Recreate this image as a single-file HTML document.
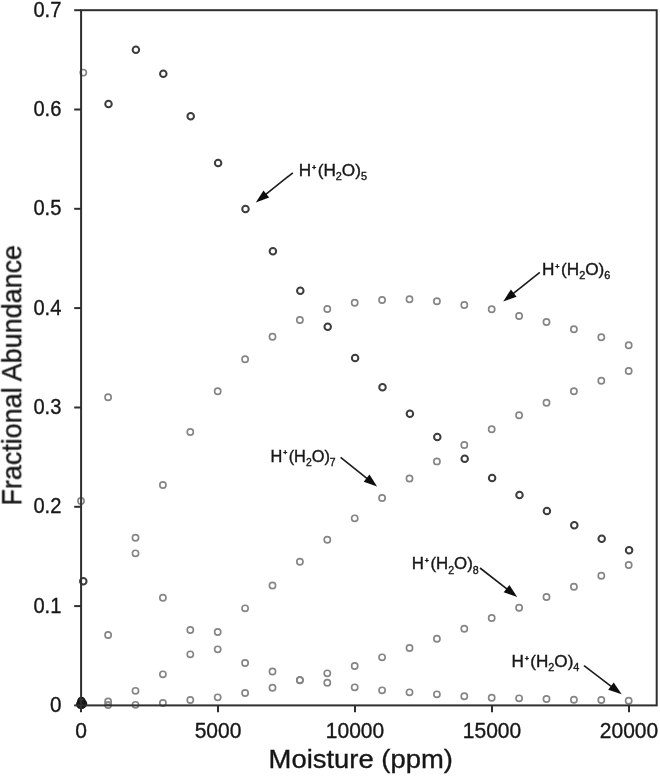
<!DOCTYPE html>
<html lang="en">
<head>
<meta charset="utf-8">
<title>Fractional Abundance vs Moisture</title>
<style>
html,body{margin:0;padding:0;background:#fff;}
body{width:660px;height:777px;overflow:hidden;}
svg{display:block;font-family:"Liberation Sans",Arial,Helvetica,sans-serif;fill:#161616;}
svg text{stroke:#161616;stroke-width:0.35px;}
</style>
</head>
<body>
<svg width="660" height="777" viewBox="0 0 660 777">
<defs><filter id="soft" x="-2%" y="-2%" width="104%" height="104%"><feGaussianBlur stdDeviation="0.5"/></filter><filter id="soft2" x="-2%" y="-2%" width="104%" height="104%"><feGaussianBlur stdDeviation="0.7"/></filter></defs>
<rect x="0" y="0" width="660" height="777" fill="#ffffff"/>
<g filter="url(#soft2)">
<circle cx="83.3" cy="72.6" r="3.1" fill="none" stroke="#858585" stroke-width="1.65"/>
<circle cx="108.1" cy="397.3" r="3.1" fill="none" stroke="#858585" stroke-width="1.65"/>
<circle cx="135.5" cy="553.3" r="3.1" fill="none" stroke="#858585" stroke-width="1.65"/>
<circle cx="162.9" cy="597.7" r="3.1" fill="none" stroke="#858585" stroke-width="1.65"/>
<circle cx="190.3" cy="630.0" r="3.1" fill="none" stroke="#858585" stroke-width="1.65"/>
<circle cx="217.7" cy="649.3" r="3.1" fill="none" stroke="#858585" stroke-width="1.65"/>
<circle cx="245.1" cy="663.0" r="3.1" fill="none" stroke="#858585" stroke-width="1.65"/>
<circle cx="272.5" cy="671.5" r="3.1" fill="none" stroke="#858585" stroke-width="1.65"/>
<circle cx="299.9" cy="680.3" r="3.1" fill="none" stroke="#858585" stroke-width="1.65"/>
<circle cx="327.3" cy="682.7" r="3.1" fill="none" stroke="#858585" stroke-width="1.65"/>
<circle cx="354.7" cy="687.3" r="3.1" fill="none" stroke="#858585" stroke-width="1.65"/>
<circle cx="382.1" cy="690.3" r="3.1" fill="none" stroke="#858585" stroke-width="1.65"/>
<circle cx="409.5" cy="692.3" r="3.1" fill="none" stroke="#858585" stroke-width="1.65"/>
<circle cx="436.9" cy="694.3" r="3.1" fill="none" stroke="#858585" stroke-width="1.65"/>
<circle cx="464.3" cy="696.2" r="3.1" fill="none" stroke="#858585" stroke-width="1.65"/>
<circle cx="491.7" cy="697.7" r="3.1" fill="none" stroke="#858585" stroke-width="1.65"/>
<circle cx="519.1" cy="698.3" r="3.1" fill="none" stroke="#858585" stroke-width="1.65"/>
<circle cx="546.5" cy="699.0" r="3.1" fill="none" stroke="#858585" stroke-width="1.65"/>
<circle cx="573.9" cy="699.7" r="3.1" fill="none" stroke="#858585" stroke-width="1.65"/>
<circle cx="601.3" cy="700.0" r="3.1" fill="none" stroke="#858585" stroke-width="1.65"/>
<circle cx="628.7" cy="700.7" r="3.1" fill="none" stroke="#858585" stroke-width="1.65"/>
<circle cx="80.7" cy="704.0" r="3.1" fill="none" stroke="#858585" stroke-width="1.65"/>
<circle cx="108.1" cy="635.0" r="3.1" fill="none" stroke="#858585" stroke-width="1.65"/>
<circle cx="135.5" cy="537.7" r="3.1" fill="none" stroke="#858585" stroke-width="1.65"/>
<circle cx="162.9" cy="485.0" r="3.1" fill="none" stroke="#858585" stroke-width="1.65"/>
<circle cx="190.3" cy="432.0" r="3.1" fill="none" stroke="#858585" stroke-width="1.65"/>
<circle cx="217.7" cy="391.3" r="3.1" fill="none" stroke="#858585" stroke-width="1.65"/>
<circle cx="245.1" cy="359.3" r="3.1" fill="none" stroke="#858585" stroke-width="1.65"/>
<circle cx="272.5" cy="336.7" r="3.1" fill="none" stroke="#858585" stroke-width="1.65"/>
<circle cx="299.9" cy="320.0" r="3.1" fill="none" stroke="#858585" stroke-width="1.65"/>
<circle cx="327.3" cy="309.0" r="3.1" fill="none" stroke="#858585" stroke-width="1.65"/>
<circle cx="354.7" cy="302.7" r="3.1" fill="none" stroke="#858585" stroke-width="1.65"/>
<circle cx="382.1" cy="300.0" r="3.1" fill="none" stroke="#858585" stroke-width="1.65"/>
<circle cx="409.5" cy="299.3" r="3.1" fill="none" stroke="#858585" stroke-width="1.65"/>
<circle cx="436.9" cy="301.3" r="3.1" fill="none" stroke="#858585" stroke-width="1.65"/>
<circle cx="464.3" cy="305.0" r="3.1" fill="none" stroke="#858585" stroke-width="1.65"/>
<circle cx="491.7" cy="309.3" r="3.1" fill="none" stroke="#858585" stroke-width="1.65"/>
<circle cx="519.1" cy="316.0" r="3.1" fill="none" stroke="#858585" stroke-width="1.65"/>
<circle cx="546.5" cy="322.0" r="3.1" fill="none" stroke="#858585" stroke-width="1.65"/>
<circle cx="573.9" cy="329.3" r="3.1" fill="none" stroke="#858585" stroke-width="1.65"/>
<circle cx="601.3" cy="337.3" r="3.1" fill="none" stroke="#858585" stroke-width="1.65"/>
<circle cx="628.7" cy="345.3" r="3.1" fill="none" stroke="#858585" stroke-width="1.65"/>
<circle cx="80.7" cy="705.0" r="3.1" fill="none" stroke="#858585" stroke-width="1.65"/>
<circle cx="108.1" cy="701.5" r="3.1" fill="none" stroke="#858585" stroke-width="1.65"/>
<circle cx="135.5" cy="690.8" r="3.1" fill="none" stroke="#858585" stroke-width="1.65"/>
<circle cx="162.9" cy="674.3" r="3.1" fill="none" stroke="#858585" stroke-width="1.65"/>
<circle cx="190.3" cy="654.3" r="3.1" fill="none" stroke="#858585" stroke-width="1.65"/>
<circle cx="217.7" cy="632.0" r="3.1" fill="none" stroke="#858585" stroke-width="1.65"/>
<circle cx="245.1" cy="608.3" r="3.1" fill="none" stroke="#858585" stroke-width="1.65"/>
<circle cx="272.5" cy="585.5" r="3.1" fill="none" stroke="#858585" stroke-width="1.65"/>
<circle cx="299.9" cy="561.7" r="3.1" fill="none" stroke="#858585" stroke-width="1.65"/>
<circle cx="327.3" cy="539.7" r="3.1" fill="none" stroke="#858585" stroke-width="1.65"/>
<circle cx="354.7" cy="518.3" r="3.1" fill="none" stroke="#858585" stroke-width="1.65"/>
<circle cx="382.1" cy="498.0" r="3.1" fill="none" stroke="#858585" stroke-width="1.65"/>
<circle cx="409.5" cy="478.5" r="3.1" fill="none" stroke="#858585" stroke-width="1.65"/>
<circle cx="436.9" cy="461.4" r="3.1" fill="none" stroke="#858585" stroke-width="1.65"/>
<circle cx="464.3" cy="445.0" r="3.1" fill="none" stroke="#858585" stroke-width="1.65"/>
<circle cx="491.7" cy="429.3" r="3.1" fill="none" stroke="#858585" stroke-width="1.65"/>
<circle cx="519.1" cy="415.3" r="3.1" fill="none" stroke="#858585" stroke-width="1.65"/>
<circle cx="546.5" cy="402.7" r="3.1" fill="none" stroke="#858585" stroke-width="1.65"/>
<circle cx="573.9" cy="391.3" r="3.1" fill="none" stroke="#858585" stroke-width="1.65"/>
<circle cx="601.3" cy="380.7" r="3.1" fill="none" stroke="#858585" stroke-width="1.65"/>
<circle cx="628.7" cy="371.0" r="3.1" fill="none" stroke="#858585" stroke-width="1.65"/>
<circle cx="80.7" cy="705.3" r="3.1" fill="none" stroke="#858585" stroke-width="1.65"/>
<circle cx="108.1" cy="705.0" r="3.1" fill="none" stroke="#858585" stroke-width="1.65"/>
<circle cx="135.5" cy="704.8" r="3.1" fill="none" stroke="#858585" stroke-width="1.65"/>
<circle cx="162.9" cy="703.0" r="3.1" fill="none" stroke="#858585" stroke-width="1.65"/>
<circle cx="190.3" cy="700.0" r="3.1" fill="none" stroke="#858585" stroke-width="1.65"/>
<circle cx="217.7" cy="697.3" r="3.1" fill="none" stroke="#858585" stroke-width="1.65"/>
<circle cx="245.1" cy="693.0" r="3.1" fill="none" stroke="#858585" stroke-width="1.65"/>
<circle cx="272.5" cy="687.7" r="3.1" fill="none" stroke="#858585" stroke-width="1.65"/>
<circle cx="299.9" cy="680.0" r="3.1" fill="none" stroke="#858585" stroke-width="1.65"/>
<circle cx="327.3" cy="673.3" r="3.1" fill="none" stroke="#858585" stroke-width="1.65"/>
<circle cx="354.7" cy="666.0" r="3.1" fill="none" stroke="#858585" stroke-width="1.65"/>
<circle cx="382.1" cy="657.3" r="3.1" fill="none" stroke="#858585" stroke-width="1.65"/>
<circle cx="409.5" cy="648.0" r="3.1" fill="none" stroke="#858585" stroke-width="1.65"/>
<circle cx="436.9" cy="638.7" r="3.1" fill="none" stroke="#858585" stroke-width="1.65"/>
<circle cx="464.3" cy="628.7" r="3.1" fill="none" stroke="#858585" stroke-width="1.65"/>
<circle cx="491.7" cy="618.0" r="3.1" fill="none" stroke="#858585" stroke-width="1.65"/>
<circle cx="519.1" cy="607.7" r="3.1" fill="none" stroke="#858585" stroke-width="1.65"/>
<circle cx="546.5" cy="597.0" r="3.1" fill="none" stroke="#858585" stroke-width="1.65"/>
<circle cx="573.9" cy="586.7" r="3.1" fill="none" stroke="#858585" stroke-width="1.65"/>
<circle cx="601.3" cy="575.7" r="3.1" fill="none" stroke="#858585" stroke-width="1.65"/>
<circle cx="628.7" cy="565.0" r="3.1" fill="none" stroke="#858585" stroke-width="1.65"/>
<circle cx="81.0" cy="501.0" r="3.1" fill="none" stroke="#858585" stroke-width="1.65"/>
<circle cx="81.0" cy="702.5" r="3.1" fill="none" stroke="#858585" stroke-width="1.65"/>
<circle cx="83.3" cy="581.3" r="3.25" fill="none" stroke="#3c3c3c" stroke-width="2.0"/>
<circle cx="108.5" cy="104.0" r="3.25" fill="none" stroke="#3c3c3c" stroke-width="2.0"/>
<circle cx="135.9" cy="49.7" r="3.25" fill="none" stroke="#3c3c3c" stroke-width="2.0"/>
<circle cx="163.3" cy="73.7" r="3.25" fill="none" stroke="#3c3c3c" stroke-width="2.0"/>
<circle cx="190.7" cy="116.3" r="3.25" fill="none" stroke="#3c3c3c" stroke-width="2.0"/>
<circle cx="218.1" cy="163.0" r="3.25" fill="none" stroke="#3c3c3c" stroke-width="2.0"/>
<circle cx="245.5" cy="209.0" r="3.25" fill="none" stroke="#3c3c3c" stroke-width="2.0"/>
<circle cx="272.9" cy="251.3" r="3.25" fill="none" stroke="#3c3c3c" stroke-width="2.0"/>
<circle cx="300.3" cy="290.7" r="3.25" fill="none" stroke="#3c3c3c" stroke-width="2.0"/>
<circle cx="327.7" cy="326.7" r="3.25" fill="none" stroke="#3c3c3c" stroke-width="2.0"/>
<circle cx="355.1" cy="358.0" r="3.25" fill="none" stroke="#3c3c3c" stroke-width="2.0"/>
<circle cx="382.5" cy="387.3" r="3.25" fill="none" stroke="#3c3c3c" stroke-width="2.0"/>
<circle cx="409.9" cy="413.7" r="3.25" fill="none" stroke="#3c3c3c" stroke-width="2.0"/>
<circle cx="437.3" cy="437.0" r="3.25" fill="none" stroke="#3c3c3c" stroke-width="2.0"/>
<circle cx="464.7" cy="458.7" r="3.25" fill="none" stroke="#3c3c3c" stroke-width="2.0"/>
<circle cx="492.1" cy="478.0" r="3.25" fill="none" stroke="#3c3c3c" stroke-width="2.0"/>
<circle cx="519.5" cy="495.0" r="3.25" fill="none" stroke="#3c3c3c" stroke-width="2.0"/>
<circle cx="546.9" cy="511.0" r="3.25" fill="none" stroke="#3c3c3c" stroke-width="2.0"/>
<circle cx="574.3" cy="525.3" r="3.25" fill="none" stroke="#3c3c3c" stroke-width="2.0"/>
<circle cx="601.7" cy="538.7" r="3.25" fill="none" stroke="#3c3c3c" stroke-width="2.0"/>
<circle cx="629.1" cy="550.3" r="3.25" fill="none" stroke="#3c3c3c" stroke-width="2.0"/>
<circle cx="81.4" cy="701.0" r="3.25" fill="none" stroke="#151515" stroke-width="2.0"/>
<circle cx="83.0" cy="703.8" r="3.25" fill="none" stroke="#151515" stroke-width="2.0"/>
<circle cx="80.3" cy="704.3" r="3.25" fill="none" stroke="#151515" stroke-width="2.0"/>
<circle cx="81.8" cy="704.8" r="3.25" fill="none" stroke="#151515" stroke-width="2.0"/>
</g>
<g filter="url(#soft)">
<rect x="81.1" y="10.2" width="575.6" height="695.1999999999999" fill="none" stroke="#2e2e2e" stroke-width="2"/>
<line x1="74.2" y1="705.4" x2="81.1" y2="705.4" stroke="#2e2e2e" stroke-width="2"/>
<text x="49.9" y="712.0" font-size="22" textLength="11.5" lengthAdjust="spacingAndGlyphs">0</text>
<line x1="74.2" y1="606.1" x2="81.1" y2="606.1" stroke="#2e2e2e" stroke-width="2"/>
<text x="33.4" y="612.7" font-size="22" textLength="28.0" lengthAdjust="spacingAndGlyphs">0.1</text>
<line x1="74.2" y1="506.8" x2="81.1" y2="506.8" stroke="#2e2e2e" stroke-width="2"/>
<text x="33.4" y="513.4" font-size="22" textLength="28.0" lengthAdjust="spacingAndGlyphs">0.2</text>
<line x1="74.2" y1="407.5" x2="81.1" y2="407.5" stroke="#2e2e2e" stroke-width="2"/>
<text x="33.4" y="414.1" font-size="22" textLength="28.0" lengthAdjust="spacingAndGlyphs">0.3</text>
<line x1="74.2" y1="308.1" x2="81.1" y2="308.1" stroke="#2e2e2e" stroke-width="2"/>
<text x="33.4" y="314.7" font-size="22" textLength="28.0" lengthAdjust="spacingAndGlyphs">0.4</text>
<line x1="74.2" y1="208.8" x2="81.1" y2="208.8" stroke="#2e2e2e" stroke-width="2"/>
<text x="33.4" y="215.4" font-size="22" textLength="28.0" lengthAdjust="spacingAndGlyphs">0.5</text>
<line x1="74.2" y1="109.5" x2="81.1" y2="109.5" stroke="#2e2e2e" stroke-width="2"/>
<text x="33.4" y="116.1" font-size="22" textLength="28.0" lengthAdjust="spacingAndGlyphs">0.6</text>
<line x1="74.2" y1="10.2" x2="81.1" y2="10.2" stroke="#2e2e2e" stroke-width="2"/>
<text x="33.4" y="16.8" font-size="22" textLength="28.0" lengthAdjust="spacingAndGlyphs">0.7</text>
<line x1="81.0" y1="705.4" x2="81.0" y2="712.2" stroke="#2e2e2e" stroke-width="2"/>
<text x="75.2" y="737.7" font-size="22" textLength="11.7" lengthAdjust="spacingAndGlyphs">0</text>
<line x1="218.0" y1="705.4" x2="218.0" y2="712.2" stroke="#2e2e2e" stroke-width="2"/>
<text x="194.7" y="737.7" font-size="22" textLength="46.7" lengthAdjust="spacingAndGlyphs">5000</text>
<line x1="355.0" y1="705.4" x2="355.0" y2="712.2" stroke="#2e2e2e" stroke-width="2"/>
<text x="325.8" y="737.7" font-size="22" textLength="58.4" lengthAdjust="spacingAndGlyphs">10000</text>
<line x1="492.0" y1="705.4" x2="492.0" y2="712.2" stroke="#2e2e2e" stroke-width="2"/>
<text x="462.8" y="737.7" font-size="22" textLength="58.4" lengthAdjust="spacingAndGlyphs">15000</text>
<line x1="629.0" y1="705.4" x2="629.0" y2="712.2" stroke="#2e2e2e" stroke-width="2"/>
<text x="599.8" y="737.7" font-size="22" textLength="58.4" lengthAdjust="spacingAndGlyphs">20000</text>
<text x="268.6" y="768" font-size="26.5" textLength="184.3" lengthAdjust="spacingAndGlyphs">Moisture (ppm)</text>
<text transform="translate(21.3,505.6) rotate(-90)" font-size="27.2" textLength="260.6" lengthAdjust="spacingAndGlyphs">Fractional Abundance</text>
<text x="298.7" y="176.0" font-size="16.1" textLength="68.3" lengthAdjust="spacingAndGlyphs">H<tspan font-size="6.8" font-weight="bold" dy="-6.2" dx="0.9">+</tspan><tspan dy="6.2" dx="1.3">(H</tspan><tspan font-size="10.2" dy="4.1">2</tspan><tspan dy="-4.1">O)</tspan><tspan font-size="10.2" dy="4.1">5</tspan></text>
<line x1="292.8" y1="172.8" x2="264.8" y2="195.2" stroke="#1a1a1a" stroke-width="1.6"/><polygon points="255.8,202.4 263.5,190.4 269.2,197.6" fill="#111"/>
<text x="542.0" y="275.0" font-size="16.1" textLength="68.4" lengthAdjust="spacingAndGlyphs">H<tspan font-size="6.8" font-weight="bold" dy="-6.2" dx="0.9">+</tspan><tspan dy="6.2" dx="1.3">(H</tspan><tspan font-size="10.2" dy="4.1">2</tspan><tspan dy="-4.1">O)</tspan><tspan font-size="10.2" dy="4.1">6</tspan></text>
<line x1="539.8" y1="272.4" x2="512.2" y2="294.4" stroke="#1a1a1a" stroke-width="1.6"/><polygon points="503.2,301.6 510.9,289.6 516.6,296.8" fill="#111"/>
<text x="270.6" y="461.6" font-size="16.1" textLength="65.0" lengthAdjust="spacingAndGlyphs">H<tspan font-size="6.8" font-weight="bold" dy="-6.2" dx="0.9">+</tspan><tspan dy="6.2" dx="1.3">(H</tspan><tspan font-size="10.2" dy="4.1">2</tspan><tspan dy="-4.1">O)</tspan><tspan font-size="10.2" dy="4.1">7</tspan></text>
<line x1="340.6" y1="457.3" x2="368.1" y2="479.4" stroke="#1a1a1a" stroke-width="1.6"/><polygon points="377.1,486.6 363.7,481.7 369.5,474.6" fill="#111"/>
<text x="411.8" y="569.4" font-size="16.1" textLength="66.9" lengthAdjust="spacingAndGlyphs">H<tspan font-size="6.8" font-weight="bold" dy="-6.2" dx="0.9">+</tspan><tspan dy="6.2" dx="1.3">(H</tspan><tspan font-size="10.2" dy="4.1">2</tspan><tspan dy="-4.1">O)</tspan><tspan font-size="10.2" dy="4.1">8</tspan></text>
<line x1="480.0" y1="568.0" x2="508.1" y2="589.9" stroke="#1a1a1a" stroke-width="1.6"/><polygon points="517.2,597.0 503.7,592.3 509.4,585.1" fill="#111"/>
<text x="511.4" y="666.9" font-size="16.1" textLength="68.0" lengthAdjust="spacingAndGlyphs">H<tspan font-size="6.8" font-weight="bold" dy="-6.2" dx="0.9">+</tspan><tspan dy="6.2" dx="1.3">(H</tspan><tspan font-size="10.2" dy="4.1">2</tspan><tspan dy="-4.1">O)</tspan><tspan font-size="10.2" dy="4.1">4</tspan></text>
<line x1="584.0" y1="665.7" x2="612.5" y2="687.3" stroke="#1a1a1a" stroke-width="1.6"/><polygon points="621.7,694.3 608.2,689.8 613.7,682.5" fill="#111"/>
</g>
</svg>
</body>
</html>
